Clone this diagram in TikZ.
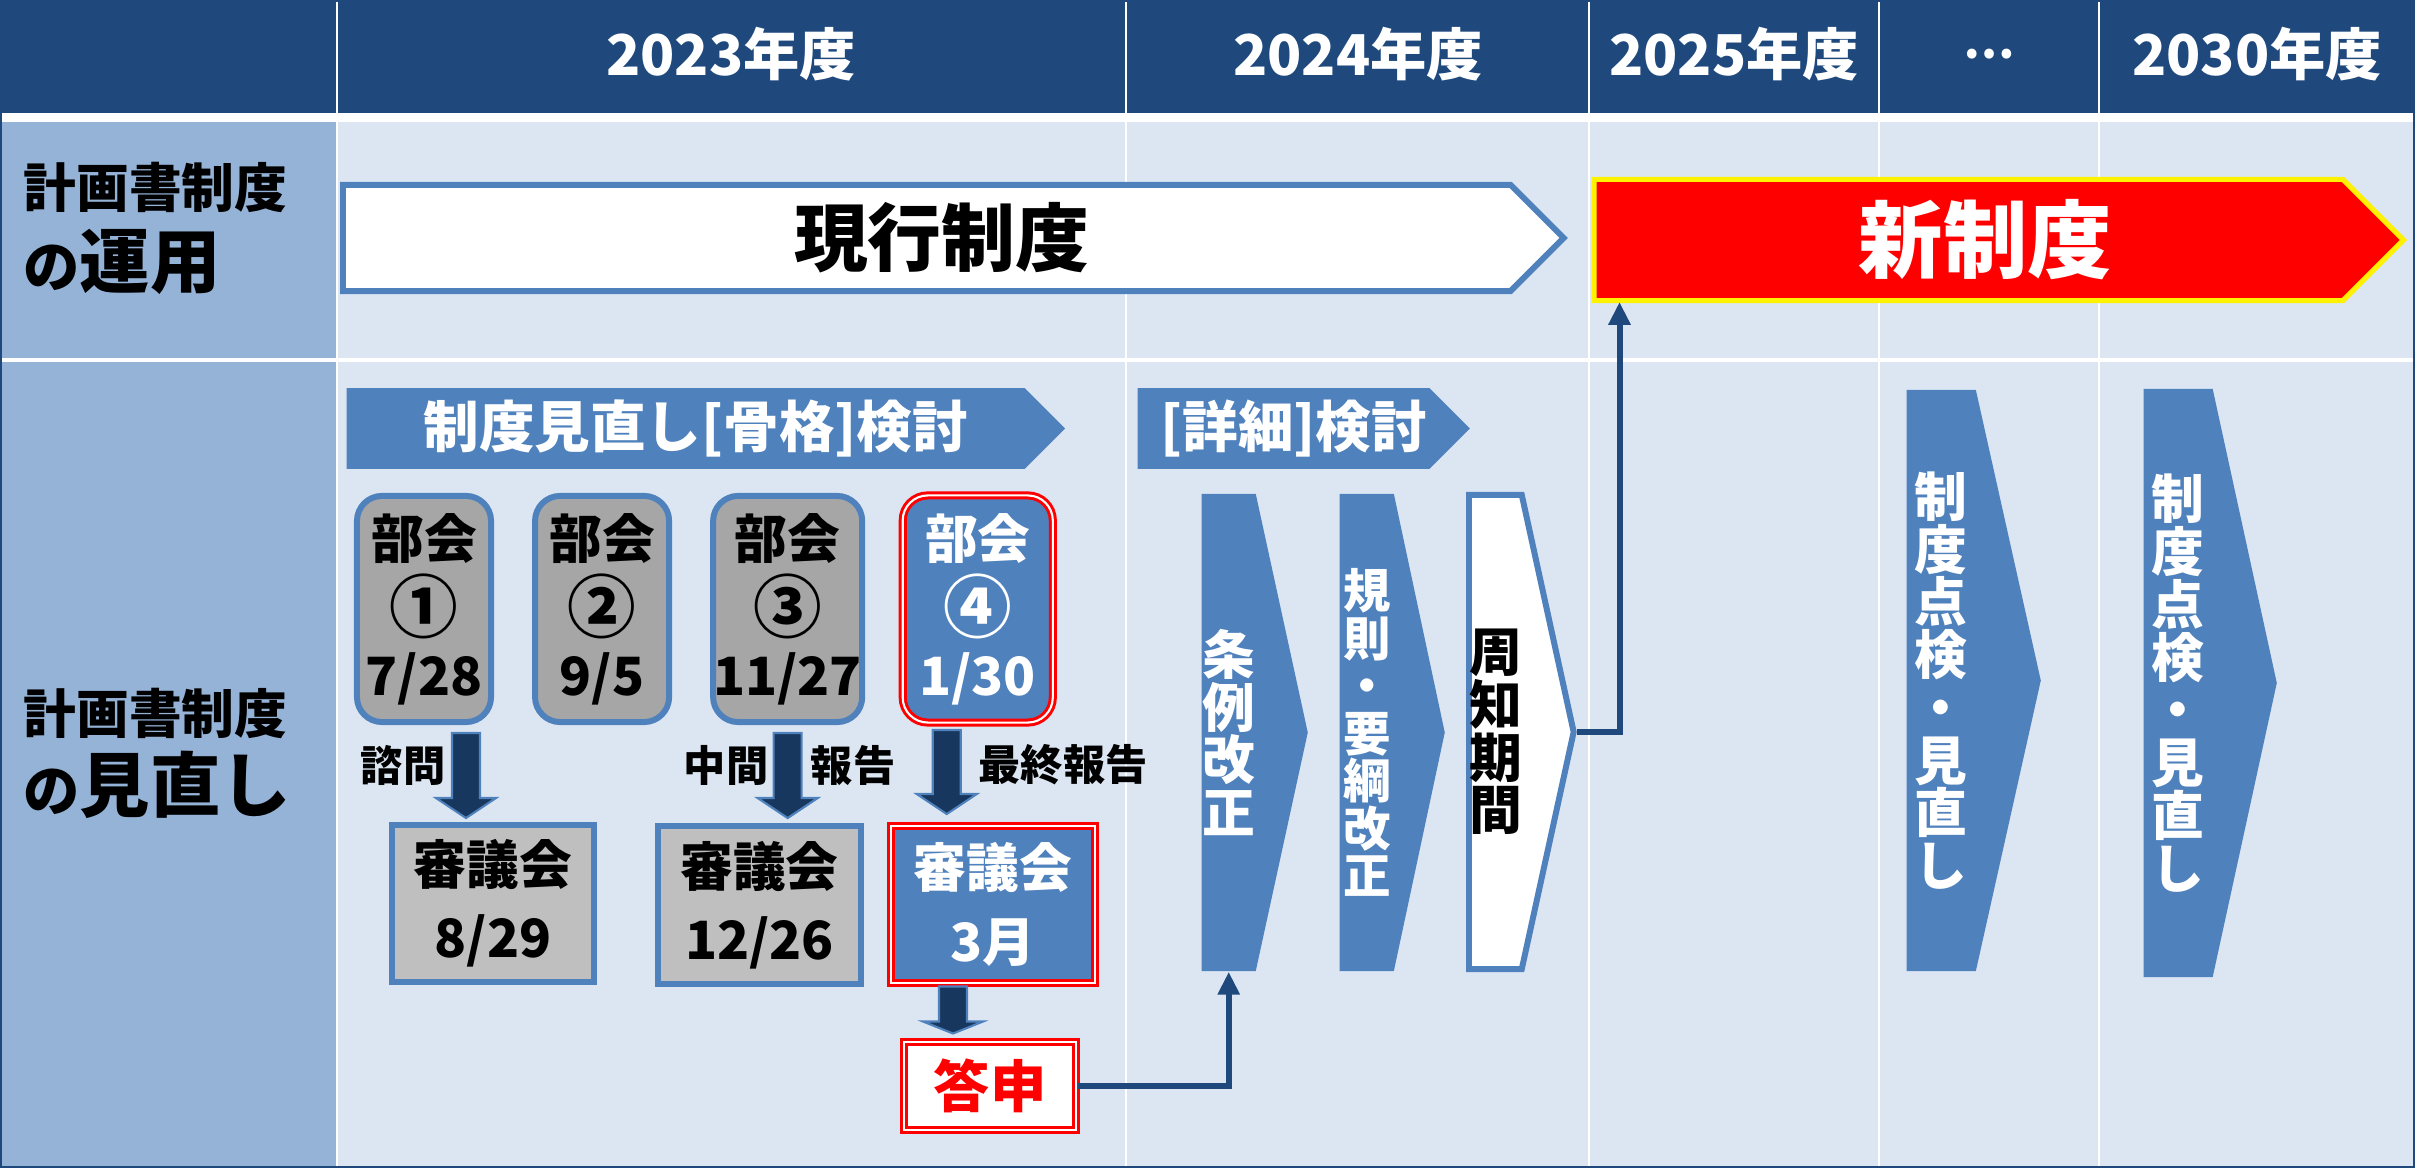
\documentclass[tikz,border=0pt]{standalone}
\usepackage{fontspec}
\setmainfont{Noto Sans CJK JP}
\usetikzlibrary{positioning, calc, shapes.symbols, arrows.meta}

\definecolor{navy}{HTML}{1F497D}
\definecolor{darknavy}{HTML}{17375E}
\definecolor{accent}{HTML}{4F81BD}
\definecolor{sidecol}{HTML}{95B3D7}
\definecolor{cellbg}{HTML}{DCE6F2}
\definecolor{bukaigray}{HTML}{A6A6A6}
\definecolor{shingigray}{HTML}{BFBFBF}

\newcommand{\fsz}[2]{\fontsize{#1}{#2}\selectfont\bfseries}
\newcommand{\circnum}[1]{\raisebox{-1.6pt}{\fontsize{19.5}{19.5}\selectfont#1}}

\tikzset{
	yeartxt/.style={text=white, font=\fsz{16}{19}},
	sidetxt/.style={anchor=west, inner sep=0pt, font=\fsz{15}{18}},
	bigarrow/.style={signal, signal to=east, signal pointer angle=90, anchor=west},
	banner/.style={bigarrow, fill=accent, text=white, inner xsep=0pt, font=\fsz{15.8}{18}},
	chevron/.style={signal, signal to=east, anchor=west, align=center, inner xsep=0pt},
	bukai/.style={draw=accent, line width=1.7pt, fill=bukaigray, rounded corners=0.25cm,
		inner xsep=0pt, minimum height=2.26cm, align=center, font=\fsz{15}{19.5}},
	shingi/.style={draw=accent, line width=1.7pt, fill=shingigray, inner xsep=0pt,
		minimum height=1.57cm, minimum width=2.02cm, align=center, font=\fsz{15}{20.8}},
	redframe/.style={draw=red, double=white, line width=0.85pt, double distance=0.6pt},
	steplabel/.style={font=\fsz{12}{14}},
	fatarrow/.style={fill=darknavy, draw=accent, line width=0.6pt},
	link/.style={draw=navy, line width=1.7pt, -{Triangle[width=6pt, length=6.5pt]}},
	pics/fatdown/.style 2 args={code={
		\filldraw[fatarrow] (-14,0) -- (14,0) -- (14,#1-#2) -- (30,#1-#2)
			-- (0,#1) -- (-30,#1-#2) -- (-14,#1-#2) -- cycle;
	}},
}

\begin{document}
\begin{tikzpicture}[x=0.01cm, y=-0.01cm]
	\useasboundingbox (0,0) rectangle (2415,1168);

	% table
	\fill[white] (0,0) rectangle (2415,1168);
	\foreach \xa/\xb in {0/336, 338/1125, 1127/1588, 1590/1878, 1880/2098, 2100/2415} {
		\fill[navy] (\xa,0) rectangle (\xb,113);
		\fill[cellbg] (\xa,122) rectangle (\xb,358);
		\fill[cellbg] (\xa,362) rectangle (\xb,1168);
	}
	\fill[sidecol] (0,122) rectangle (336,358);
	\fill[sidecol] (0,362) rectangle (336,1168);
	\draw[navy, line width=0.6pt] (1,1) rectangle (2414,1167);

	\node[yeartxt] (y2023) at (731,54) {2023年度};
	\node[yeartxt] (y2024) at (1358,54) {2024年度};
	\node[yeartxt] (y2025) at (1734,54) {2025年度};
	\node[yeartxt, font=\fsz{13}{19}] (ydots) at (1989,54) {…};
	\node[yeartxt] (y2030) at (2257,54) {2030年度};

	\node[sidetxt] (unyouA) at (23,187) {計画書制度};
	\node[sidetxt] (unyouB) at (23,262) {{\fsz{16}{18}の}{\fsz{20}{24}運用}};
	\node[sidetxt] (minaoshiA) at (23,713) {計画書制度};
	\node[sidetxt] (minaoshiB) at (23,785) {{\fsz{16}{18}の}{\fsz{20}{24}見直し}};

	% row 1
	\node[bigarrow, draw=accent, line width=1.7pt, fill=white, minimum width=12.2cm,
		minimum height=1.06cm, font=\fsz{21}{24}] (current) at (340,238) {\hspace*{0.3cm}現行制度};
	\node[bigarrow, draw=yellow, line width=1.42pt, fill=red, text=white, minimum width=8.09cm,
		minimum height=1.21cm, font=\fsz{24}{28}] (newsys) at (1591.5,240) {\hspace*{0.34cm}新制度};

	% row 2
	\node[banner, minimum width=7.18cm, minimum height=0.73cm] (kokkaku) at (346,428.5) {\hspace*{0.2cm}制度見直し[骨格]検討};
	\node[banner, minimum width=3.32cm, minimum height=0.73cm] (shousai) at (1137,428.5) {\hspace*{0.2cm}[詳細]検討};

	\node[bukai, minimum width=1.34cm] (bk1) at (424,609) {部会\\\circnum{①}\\7/28};
	\node[bukai, minimum width=1.34cm, right=0.38cm of bk1] (bk2) {部会\\\circnum{②}\\9/5};
	\node[bukai, minimum width=1.49cm, right=0.38cm of bk2] (bk3) {部会\\\circnum{③}\\11/27};
	\node[bukai, redframe, fill=accent, text=white, minimum width=1.5cm,
		minimum height=2.27cm, right=0.36cm of bk3] (bk4) {部会\\\circnum{④}\\1/30};

	\node[shingi] (sg1) at (493,903.5) {審議会\\8/29};
	\node[shingi, minimum width=2.03cm] (sg2) at (759.5,905) {審議会\\12/26};
	\node[shingi, redframe, fill=accent, text=white, minimum width=2.04cm] (sg3) at (993,904.5) {審議会\\3月};
	\node[redframe, fill=white, text=red, minimum width=1.72cm, minimum height=0.88cm,
		font=\fsz{16}{18}] (toshin) at (990,1086) {答申};

	\pic at ($(bk1.south)+(42,8)$) {fatdown={85}{20}};
	\pic at ($(bk3.south)+(0,8)$) {fatdown={85}{20}};
	\pic at ($(bk4.south)+(-31,6)$) {fatdown={84}{20}};
	\pic at ($(sg3.south)+(-40,2)$) {fatdown={47}{12}};

	\node[steplabel] (shimon) at (403,765) {諮問};
	\node[steplabel] (chukan) at (726,765) {中間};
	\node[steplabel] (houkoku) at (853,765) {報告};
	\node[steplabel] (saishu) at (1063,765) {最終報告};

	\node[chevron, fill=accent, text=white, minimum width=1.06cm, minimum height=4.77cm,
		signal pointer angle=155.4, font=\fsz{15}{15}] (jorei) at (1201,732.5) {条\\例\\改\\正};
	\node[chevron, fill=accent, text=white, minimum width=1.05cm, minimum height=4.77cm,
		signal pointer angle=155.9, font=\fsz{13.5}{13.5}] (kisoku) at (1339,732.5) {規\\則\\・\\要\\綱\\改\\正};
	\node[chevron, draw=accent, line width=1.7pt, fill=white, minimum width=1.03cm, minimum height=4.74cm,
		signal pointer angle=155.3, font=\fsz{15}{15}] (shuchi) at (1466,732) {周\\知\\期\\間};
	\node[chevron, fill=accent, text=white, minimum width=1.34cm, minimum height=5.81cm,
		signal pointer angle=154.8, font=\fsz{15}{15}] (tenkenA) at (1906,680.5) {制\\度\\点\\検\\・\\見\\直\\し};
	\node[chevron, fill=accent, text=white, minimum width=1.33cm, minimum height=5.88cm,
		signal pointer angle=155.4, font=\fsz{15}{15}] (tenkenB) at (2143,683) {制\\度\\点\\検\\・\\見\\直\\し};

	\coordinate (newin) at ($(newsys.west)+(28,62)$);
	\draw[link] (toshin.east) -| (jorei.south);
	\draw[link] (shuchi.east) -| (newin);
\end{tikzpicture}
\end{document}
